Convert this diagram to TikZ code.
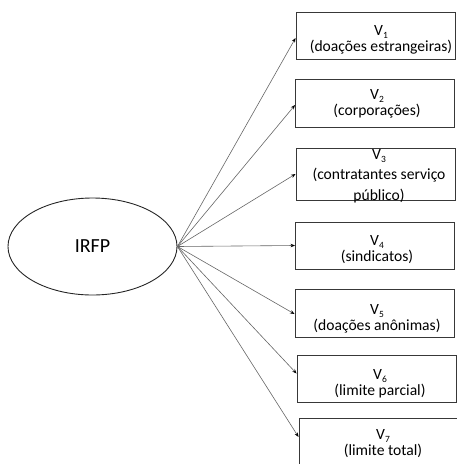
\documentclass[tikz,border=0pt]{standalone}
\usepackage{fontspec}
\setmainfont{Carlito}
\usetikzlibrary{arrows.meta,shapes.geometric}

\newcommand{\vname}[1]{V\raisebox{-3pt}[0pt][0pt]{\fontsize{9.5}{10}\selectfont #1}}

\begin{document}
\begin{tikzpicture}[x=1pt, y=-1pt,
		box/.style={draw=black!78, line width=0.9pt, minimum width=159pt, minimum height=#1, inner sep=0pt},
		box/.default=47pt,
		boxtext/.style={anchor=north, align=center, inner sep=0pt, font=\fontsize{15.6}{16}\selectfont},
		link/.style={draw=black!60, line width=0.6pt, -{Stealth[length=4.5pt, width=3.5pt, black]}}]
		\useasboundingbox (0, 0) rectangle (457, 464);
		\clip (0, 0) rectangle (457, 464);
		\node[draw=black!85, line width=0.9pt, ellipse, minimum width=169pt, minimum height=97pt, inner sep=0pt,
			font=\fontsize{20}{20}\selectfont] (irfp) at (92.5, 246.5) {IRFP};

		\node[box] (v1) at (375.5, 35.5) {};
		\node[box, minimum height=48pt] (v2) at (375, 103) {};
		\node[box, minimum height=52pt] (v3) at (375.5, 174) {};
		\node[box] (v4) at (375, 245.5) {};
		\node[box, minimum height=48pt] (v5) at (374.5, 313) {};
		\node[box] (v6) at (376.5, 378.5) {};
		\node[box, minimum height=48pt] (v7) at (378.5, 442) {};

		\node[boxtext] (t1) at (381, 25) {\vname{1}\\(doações estrangeiras)};
		\node[boxtext] (t2) at (377, 89) {\vname{2}\\(corporações)};
		\node[boxtext, font=\fontsize{15.6}{20.5}\selectfont] (t3) at (379, 149) {\vname{3}\\(contratantes serviço\\público)};
		\node[boxtext] (t4) at (377, 235) {\vname{4}\\(sindicatos)};
		\node[boxtext] (t5) at (377, 304) {\vname{5}\\(doações anônimas)};
		\node[boxtext] (t6) at (380, 369) {\vname{6}\\(limite parcial)};
		\node[boxtext] (t7) at (383, 429) {\vname{7}\\(limite total)};

		\draw[link] (irfp.east) -- ([yshift=-2.5pt]v1.west);
		\draw[link] (irfp.east) -- ([yshift=-2pt]v2.west);
		\draw[link] (irfp.east) -- (v3.west);
		\draw[link] (irfp.east) -- (v4.west);
		\draw[link] (irfp.east) -- ([yshift=-1pt]v5.west);
		\draw[link] (irfp.east) -- ([yshift=5pt]v6.west);
		\draw[link] (irfp.east) -- ([yshift=5pt]v7.west);
\end{tikzpicture}
\end{document}
